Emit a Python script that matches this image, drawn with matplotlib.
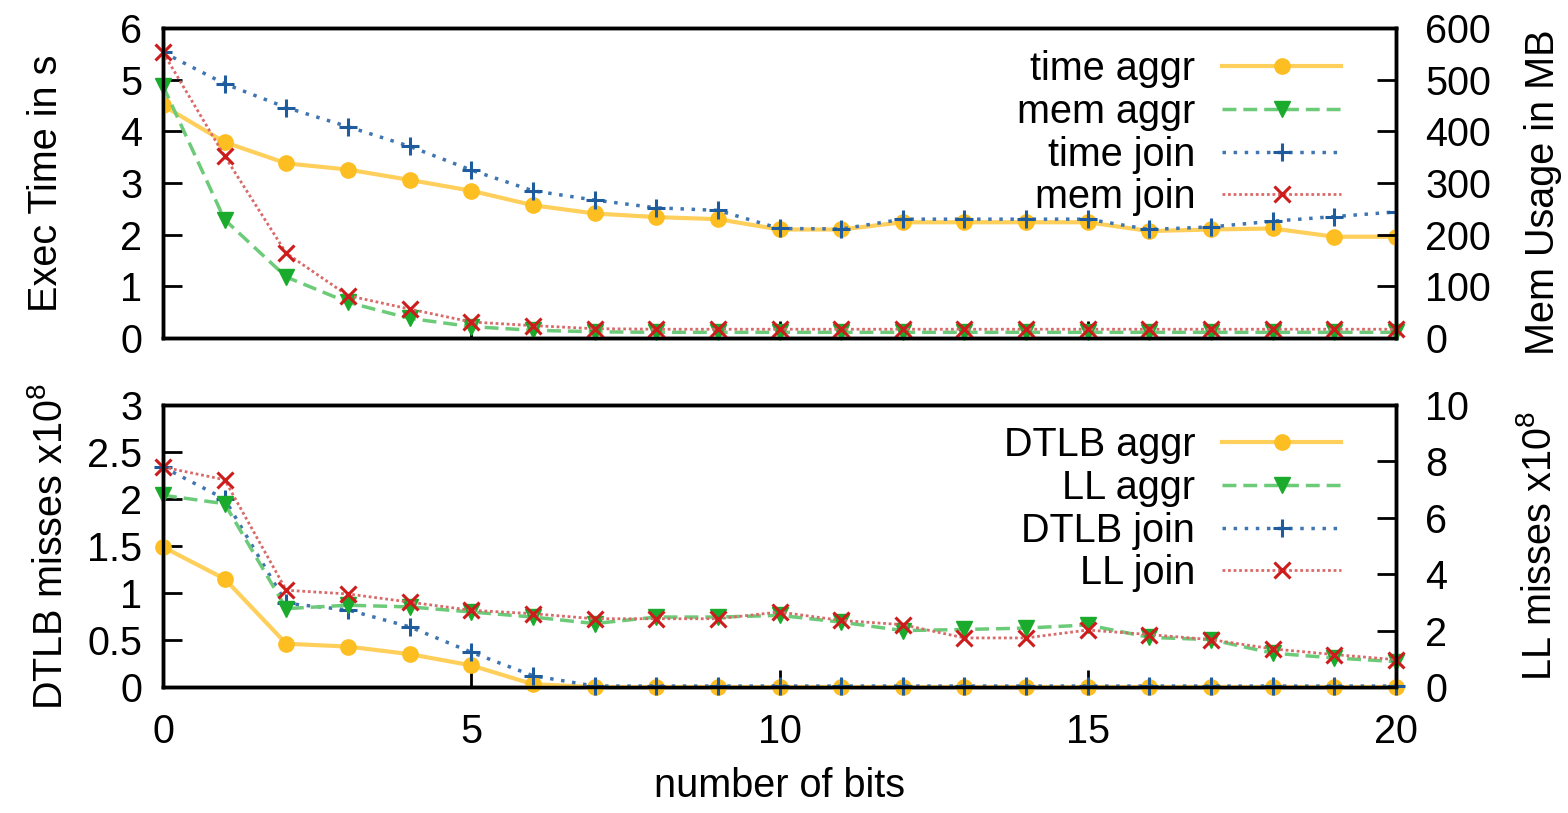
import matplotlib
matplotlib.use("Agg")
import matplotlib.pyplot as plt

plt.rcParams['font.family'] = ['Liberation Sans', 'DejaVu Sans']
plt.rcParams['mathtext.fontset'] = 'custom'
plt.rcParams['mathtext.rm'] = 'Liberation Sans'
plt.rcParams['mathtext.it'] = 'Liberation Sans'

bits = list(range(21))

time_aggr = [4.5, 3.79, 3.38, 3.26, 3.06, 2.85, 2.57, 2.41, 2.34, 2.3, 2.1,
             2.1, 2.24, 2.24, 2.24, 2.24, 2.07, 2.1, 2.12, 1.96, 1.96]
time_join = [5.53, 4.92, 4.46, 4.09, 3.71, 3.25, 2.85, 2.67, 2.52, 2.47, 2.12,
             2.11, 2.3, 2.3, 2.3, 2.3, 2.1, 2.15, 2.26, 2.35, 2.44]
mem_aggr = [488, 229, 118, 69, 38, 22, 15, 12, 11, 11, 11,
            11, 11, 11, 11, 11, 11, 11, 11, 11, 11]
mem_join = [553, 352, 164, 82, 56, 31, 24, 18, 17, 17, 17,
            17, 17, 17, 17, 17, 17, 17, 17, 17, 17]

dtlb_aggr = [1.49, 1.15, 0.46, 0.43, 0.35, 0.23, 0.03, 0.0, 0.0, 0.0, 0.0,
             0.0, 0.0, 0.0, 0.0, 0.0, 0.0, 0.0, 0.0, 0.0, 0.0]
dtlb_join = [2.34, 2.0, 0.89, 0.82, 0.64, 0.37, 0.12, 0.01, 0.01, 0.01, 0.01,
             0.01, 0.01, 0.01, 0.01, 0.01, 0.01, 0.01, 0.01, 0.01, 0.01]
ll_aggr = [6.8, 6.5, 2.78, 2.9, 2.84, 2.66, 2.48, 2.25, 2.48, 2.48, 2.54,
           2.3, 2.0, 2.04, 2.09, 2.2, 1.76, 1.68, 1.2, 1.03, 0.9]
ll_join = [7.8, 7.35, 3.43, 3.3, 3.01, 2.72, 2.6, 2.42, 2.42, 2.42, 2.66,
           2.36, 2.21, 1.74, 1.74, 2.02, 1.86, 1.68, 1.35, 1.15, 0.97]

top_left_ticks = [0, 1, 2, 3, 4, 5, 6]
top_right_ticks = [0, 100, 200, 300, 400, 500, 600]
bot_left_ticks = [0, 0.5, 1, 1.5, 2, 2.5, 3]
bot_left_labels = ['0', '0.5', '1', '1.5', '2', '2.5', '3']
bot_right_ticks = [0, 2, 4, 6, 8, 10]
x_ticks = [0, 5, 10, 15, 20]

YEL_M, YEL_L = '#FDBE22', '#FFCF5C'
GRN_M, GRN_L = '#1AAA2C', '#6CCB78'
BLU_M, BLU_L = '#1F5C9E', '#3F75B0'
RED_M, RED_L = '#CC1C1C', '#D96A6A'

FS = 28.5
W, H = 1568, 813
fig = plt.figure(figsize=(W / 100, H / 100), dpi=100)

L, R = 163, 1396
def rect(top, bottom):
    return [L / W, 1 - bottom / H, (R - L) / W, (bottom - top) / H]

ax1 = fig.add_axes(rect(28, 338))
ax2 = fig.add_axes(rect(405, 687))
ax1r = ax1.twinx()
ax2r = ax2.twinx()

styles = {
    'aggr_a': dict(color=YEL_L, ls='-', lw=3, marker='o', ms=11, mfc=YEL_M, mec=YEL_M),
    'aggr_b': dict(color=GRN_L, ls=(0, (4, 2)), lw=2.5, marker='v', ms=12, mfc=GRN_M, mec=GRN_M),
    'join_a': dict(color=BLU_L, ls=(0, (1, 2.2)), lw=2.5, marker='+', ms=13, mew=2.2, mfc=BLU_M, mec=BLU_M),
    'join_b': dict(color=RED_L, ls=(0, (1, 1)), lw=2.0, marker='x', ms=12, mew=2.2, mfc=RED_M, mec=RED_M),
}

# top panel
h1 = ax1.plot(bits, time_aggr, label='time aggr', zorder=3, **styles['aggr_a'])[0]
h3 = ax1.plot(bits, time_join, label='time join', zorder=3, **styles['join_a'])[0]
h2 = ax1r.plot(bits, mem_aggr, label='mem aggr', clip_on=False, **styles['aggr_b'])[0]
h4 = ax1r.plot(bits, mem_join, label='mem join', clip_on=False, **styles['join_b'])[0]

# bottom panel
g1 = ax2.plot(bits, dtlb_aggr, label='DTLB aggr', clip_on=False, zorder=3, **styles['aggr_a'])[0]
g3 = ax2.plot(bits, dtlb_join, label='DTLB join', clip_on=False, zorder=3, **styles['join_a'])[0]
g2 = ax2r.plot(bits, ll_aggr, label='LL aggr', clip_on=False, **styles['aggr_b'])[0]
g4 = ax2r.plot(bits, ll_join, label='LL join', clip_on=False, **styles['join_b'])[0]

for a in (ax1, ax2):
    a.set_xlim(0, 20)
    a.set_xticks(x_ticks)
    a.tick_params(axis='x', direction='in', length=12, width=2, labelsize=FS, pad=19)
    a.tick_params(axis='y', direction='in', length=14, width=2, labelsize=FS, pad=15)
for a in (ax1r, ax2r):
    a.tick_params(axis='y', direction='in', length=14, width=2, labelsize=FS, pad=21)
for a in (ax1, ax2, ax1r, ax2r):
    for s in a.spines.values():
        s.set_linewidth(2.5)

ax1.set_ylim(0, 6)
ax1.set_yticks(top_left_ticks)
ax1r.set_ylim(0, 600)
ax1r.set_yticks(top_right_ticks)
ax1.tick_params(axis='x', labelbottom=False)

ax2.set_ylim(0, 3)
ax2.set_yticks(bot_left_ticks)
ax2.set_yticklabels(bot_left_labels)
ax2r.set_ylim(0, 10)
ax2r.set_yticks(bot_right_ticks)

ax1.set_ylabel('Exec Time in s', fontsize=FS)
ax1.yaxis.set_label_coords((65 - L) / (R - L), 0.5)
ax1r.set_ylabel('Mem Usage in MB', fontsize=FS)
ax1r.yaxis.set_label_coords((1524 - L) / (R - L), 0.47)
ax2.set_ylabel(r'DTLB misses x10$^{8}$', fontsize=FS)
ax2.yaxis.set_label_coords((70 - L) / (R - L), 0.5)
ax2r.set_ylabel(r'LL misses x10$^{8}$', fontsize=FS)
ax2r.yaxis.set_label_coords((1520 - L) / (R - L), 0.5)
ax2.set_xlabel('number of bits', fontsize=FS)
ax2.xaxis.set_label_coords(0.5, -(767 - 687) / 282)

leg_kw = dict(loc='upper right', frameon=False, markerfirst=False, fontsize=FS,
              handlelength=3.0, handletextpad=0.68, labelspacing=0.12,
              borderpad=0, borderaxespad=0, numpoints=1)
ax1r.legend([h1, h2, h3, h4], ['time aggr', 'mem aggr', 'time join', 'mem join'],
            bbox_to_anchor=((1341 - L) / (R - L), 1 - (50 - 28) / 310), **leg_kw)
ax2r.legend([g1, g2, g3, g4], ['DTLB aggr', 'LL aggr', 'DTLB join', 'LL join'],
            bbox_to_anchor=((1341 - L) / (R - L), 1 - (426 - 405) / 282), **leg_kw)

fig.savefig('out.png', dpi=100)
